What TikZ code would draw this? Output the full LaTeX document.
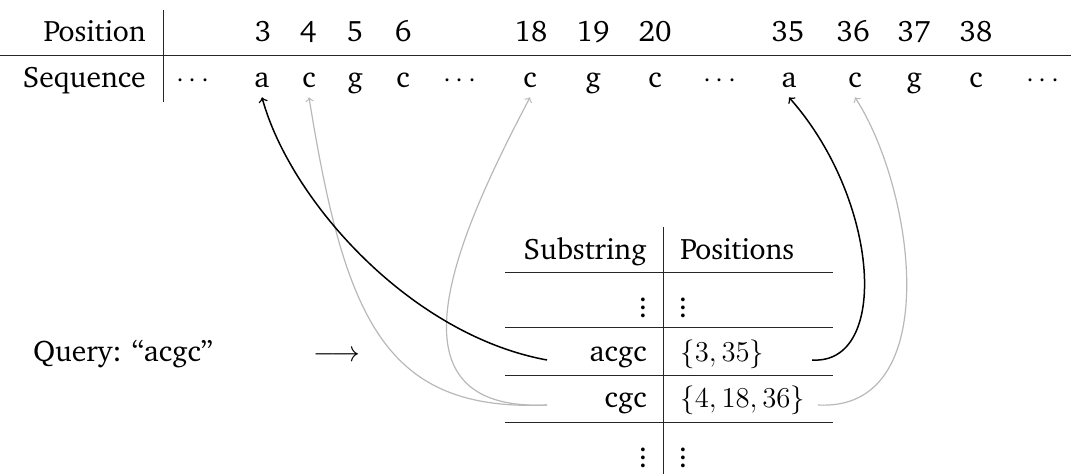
\documentclass[tikz,border=0pt]{standalone}
\usepackage[T1]{fontenc}
\usepackage{charter}
\begin{document}
\begin{tikzpicture}[x=0.5pt,y=-0.5pt,
  txt/.style={font=\fontsize{14.8pt}{17pt}\selectfont, inner sep=0pt},
  seqch/.style={txt, anchor=base, text depth=4.5pt},
  num/.style={txt, anchor=base},
  tabrule/.style={line width=0.5pt, black!85},
  hit/.style={->, line width=0.75pt, black},
  miss/.style={->, line width=0.6pt, black!28}]
\useasboundingbox (0,0) rectangle (1071,474);

% ---- top table ----
\node[txt, anchor=base east] (poslab) at (146,42) {Position};
\node[txt, anchor=base east] (seqlab) at (146,88) {Sequence};
\draw[tabrule] (163,10) -- (163,102);
\draw[tabrule] (0,56) -- (1071,56);

\node[num] (p3)  at (263,42) {3};
\node[num] (p4)  at (308,42) {4};
\node[num] (p5)  at (355,42) {5};
\node[num] (p6)  at (403,42) {6};
\node[num] (p18) at (531,42) {18};
\node[num] (p19) at (593,42) {19};
\node[num] (p20) at (655,42) {20};
\node[num] (p35) at (788,42) {35};
\node[num] (p36) at (853,42) {36};
\node[num] (p37) at (914,42) {37};
\node[num] (p38) at (976,42) {38};

\node[seqch] (d1)  at (193,88) {$\cdots$};
\node[seqch] (s3)  at (262,88) {a};
\node[seqch] (s4)  at (309,88) {c};
\node[seqch] (s5)  at (355,88) {g};
\node[seqch] (s6)  at (403,88) {c};
\node[seqch] (d2)  at (460,88) {$\cdots$};
\node[seqch] (s18) at (530,88) {c};
\node[seqch] (s19) at (593,88) {g};
\node[seqch] (s20) at (655,88) {c};
\node[seqch] (d3)  at (720,88) {$\cdots$};
\node[seqch] (s35) at (789,88) {a};
\node[seqch] (s36) at (855,88) {c};
\node[seqch] (s37) at (914,88) {g};
\node[seqch] (s38) at (976,88) {c};
\node[seqch] (d4)  at (1043,88) {$\cdots$};

% ---- query ----
\node[txt, anchor=base west] (query) at (33,362) {Query: ``acgc''};
\node[txt, anchor=base] (qarrow) at (337,362) {$\longrightarrow$};

% ---- lower table ----
\draw[tabrule] (663,227) -- (663,474);
\foreach \yy in {273,328,376,423} \draw[tabrule] (505,\yy) -- (833,\yy);

\node[txt, anchor=base east] (hsub) at (647,260) {Substring};
\node[txt, anchor=base west] (hpos) at (680,260) {Positions};
\node[txt] (v1a) at (643,302) {$\vdots$};
\node[txt] (v1b) at (683,302) {$\vdots$};
\node[txt, anchor=base east] (acgc) at (647,362) {acgc};
\node[txt, anchor=base west] (acgcpos) at (680,362) {$\{3,35\}$};
\node[txt, anchor=base east] (cgc) at (647,408) {cgc};
\node[txt, anchor=base west] (cgcpos) at (680,408) {$\{4,18,36\}$};
\node[txt] (v2a) at (643,452) {$\vdots$};
\node[txt] (v2b) at (683,452) {$\vdots$};

% ---- connector ends ----
\coordinate (acgcL) at (547,360);
\coordinate (acgcR) at (812,360);
\coordinate (cgcL) at (547,405);
\coordinate (cgcR) at (818,405);

% ---- connectors ----
\draw[miss] (cgcL) .. controls (385,412) and (345,320) .. (s4.south);
\draw[miss] (cgcL) .. controls (380,412) and (455,240) .. (s18.south);
\draw[miss] (cgcR) .. controls (945,412) and (915,190) .. (s36.south);
\draw[hit] (acgcL) .. controls (410,335) and (290,200) .. (s3.south);
\draw[hit] (acgcR) .. controls (890,365) and (880,200) .. (s35.south);
\end{tikzpicture}
\end{document}
